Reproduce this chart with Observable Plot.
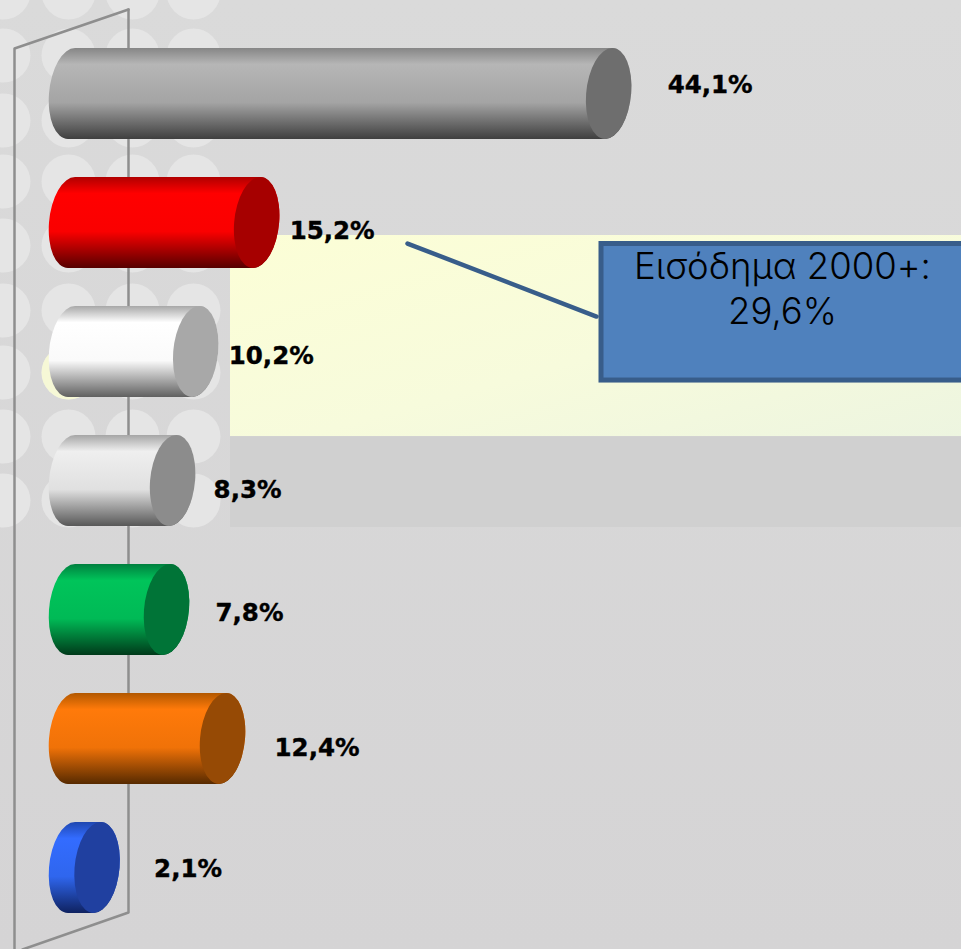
<!DOCTYPE html>
<html><head><meta charset="utf-8">
<script src="https://cdn.jsdelivr.net/npm/d3@7"></script>
<script src="https://cdn.jsdelivr.net/npm/@observablehq/plot@0.6"></script>
<style>
html,body{margin:0;padding:0;width:961px;height:949px;overflow:hidden;background:linear-gradient(#dadada,#d5d4d5);}
svg{display:block}
svg text{font-feature-settings:"calt" 0}
</style></head><body><div id="chart"></div>
<script>
const categories = ["a","b","c","d","e","f","g"];
const values = [44.1,15.2,10.2,8.3,7.8,12.4,2.1];
const labels = ["44,1%","15,2%","10,2%","8,3%","7,8%","12,4%","2,1%"];
const capColors = ["#6e6e6e","#a60000","#a8a8a8","#8c8c8c","#007437","#964a05","#2040a0"];
const gradientStops = [
  ["#868686","#b6b6b6","#a4a4a4","#3f3f3f"],
  ["#b00000","#ff0000","#fa0000","#560000"],
  ["#a8a8a8","#ffffff","#fafafa","#606060"],
  ["#a6a6a6","#efefef","#e0e0e0","#585858"],
  ["#00803f","#00c45a","#00ba56","#003a1a"],
  ["#b25800","#ff7a0a","#f07208","#572a00"],
  ["#1f47b0","#336cff","#2f66ee","#0f2260"]
];
const labelDx = [36,10,10,18,26,29,34];
const labelDy = [-8.5,8.5,4,9.5,3.5,9,1];

const W = 961, H = 949;
const pxPerUnit = 12.18, originPx = 49, capPx = 45;
const capUnits = capPx/pxPerUnit;
const bw = (1-0.2964)*866.5/(7-0.2964);          // band width of the y scale
const rows = values.map((v,i)=>({c:categories[i],v,i,label:labels[i],cap:capColors[i]}));

const circleCols = [3,68,132,193];
const circleRows = [-8,55,120,181,245,310,372,436,500];
const circles = d3.cross(circleCols,circleRows,(x,y)=>({x,y}));
// unscaled pixel channels; Plot adds the band offset to unscaled y, so it is taken back out
const px = k => ({value:d=>d[k],scale:null});
const py = k => ({value:d=>d[k]-bw/2,scale:null});
const py2 = k => ({value:d=>d[k]-bw,scale:null});
const bands = [
  {x1:230,x2:W,y1:436,y2:526,f:"#d0d0d0"},
  {x1:230,x2:W,y1:235,y2:436,f:"url(#panel)"}
];
const wall = [{x:128,y:9},{x:14,y:48},{x:14,y:949}];
const wall2 = [{x:128,y:9},{x:128,y:912},{x:22,y:949}];
const box = [{x1:601,x2:975,y1:243.5,y2:380}];
const leader = [{x:407,y:243},{x:596,y:316}];
const notes = [{t:"Εισόδημα 2000+:",x:782,y:266.5},{t:"29,6%",x:782,y:311.5}];

const skew = (index,scales,vals,dims,ctx,next)=>{
  const g = next(index,scales,vals,dims,ctx);
  d3.select(g).selectAll("rect").each(function(){
    const cy = +this.getAttribute("y") + (+this.getAttribute("height"))/2;
    this.setAttribute("transform",`translate(0 ${cy}) skewX(-4.5) translate(0 ${-cy})`);
  });
  return g;
};

const chart = Plot.plot({
  width:W,height:H,margin:0,
  style:{background:"transparent"},
  x:{domain:[-originPx/pxPerUnit,(W-originPx)/pxPerUnit],range:[0,W],axis:null},
  y:{type:"band",domain:categories,range:[47,913.5],paddingInner:0.2964,paddingOuter:0,axis:null},
  marks:[
    Plot.dot(circles,{x:px("x"),y:py("y"),r:27,fill:"#e5e5e5",stroke:"none"}),
    Plot.rect(bands,{x1:px("x1"),x2:px("x2"),y1:px("y1"),y2:py2("y2"),fill:{value:d=>d.f,scale:null}}),
    Plot.dot([{x:68,y:372}],{x:px("x"),y:py("y"),r:27,fill:"#f6f8d6",stroke:"none"}),
    Plot.line(wall,{x:px("x"),y:py("y"),stroke:"#8e8e8e",strokeWidth:2.5}),
    Plot.line(wall2,{x:px("x"),y:py("y"),stroke:"#8e8e8e",strokeWidth:2.5}),
    Plot.barX(rows,{y:"c",x1:()=>0,x2:d=>d.v+capUnits,rx:22.5,ry:45.5,
      fill:{value:d=>`url(#g${d.i})`,scale:null},render:skew}),
    Plot.barX(rows,{y:"c",x1:d=>d.v,x2:d=>d.v+capUnits,rx:22.5,ry:45.5,
      fill:{value:d=>d.cap,scale:null},render:skew}),
    ...rows.map((d,i)=>Plot.text([d],{x:r=>r.v+capUnits,y:"c",text:"label",textAnchor:"start",
      dx:labelDx[i],dy:labelDy[i],fontSize:24.5,fontWeight:"bold",fontFamily:"DejaVu Sans",fill:"#000",stroke:"#000",strokeWidth:0.4})),
    Plot.line(leader,{x:px("x"),y:py("y"),stroke:"#385d8a",strokeWidth:4.5}),
    Plot.rect(box,{x1:px("x1"),x2:px("x2"),y1:px("y1"),y2:py2("y2"),fill:"#4f81bd",stroke:"#385d8a",strokeWidth:5}),
    Plot.text(notes,{x:px("x"),y:py("y"),text:"t",fontSize:36.5,fontWeight:300,fontFamily:"Inter",fill:"#000"})
  ]
});

const defs = d3.select(chart).insert("defs",":first-child");
const offsets = ["0%","18%","60%","100%"];
gradientStops.forEach((stops,i)=>{
  const g = defs.append("linearGradient").attr("id","g"+i).attr("x1",0).attr("x2",0).attr("y1",0).attr("y2",1);
  stops.forEach((c,j)=>g.append("stop").attr("offset",offsets[j]).attr("stop-color",c));
});
const p = defs.append("linearGradient").attr("id","panel").attr("x1",0).attr("x2",1).attr("y1",0).attr("y2",1);
p.append("stop").attr("offset","0%").attr("stop-color","#fcfed6");
p.append("stop").attr("offset","55%").attr("stop-color","#f7fbdc");
p.append("stop").attr("offset","100%").attr("stop-color","#edf5e0");
document.getElementById("chart").append(chart);
</script></body></html>
